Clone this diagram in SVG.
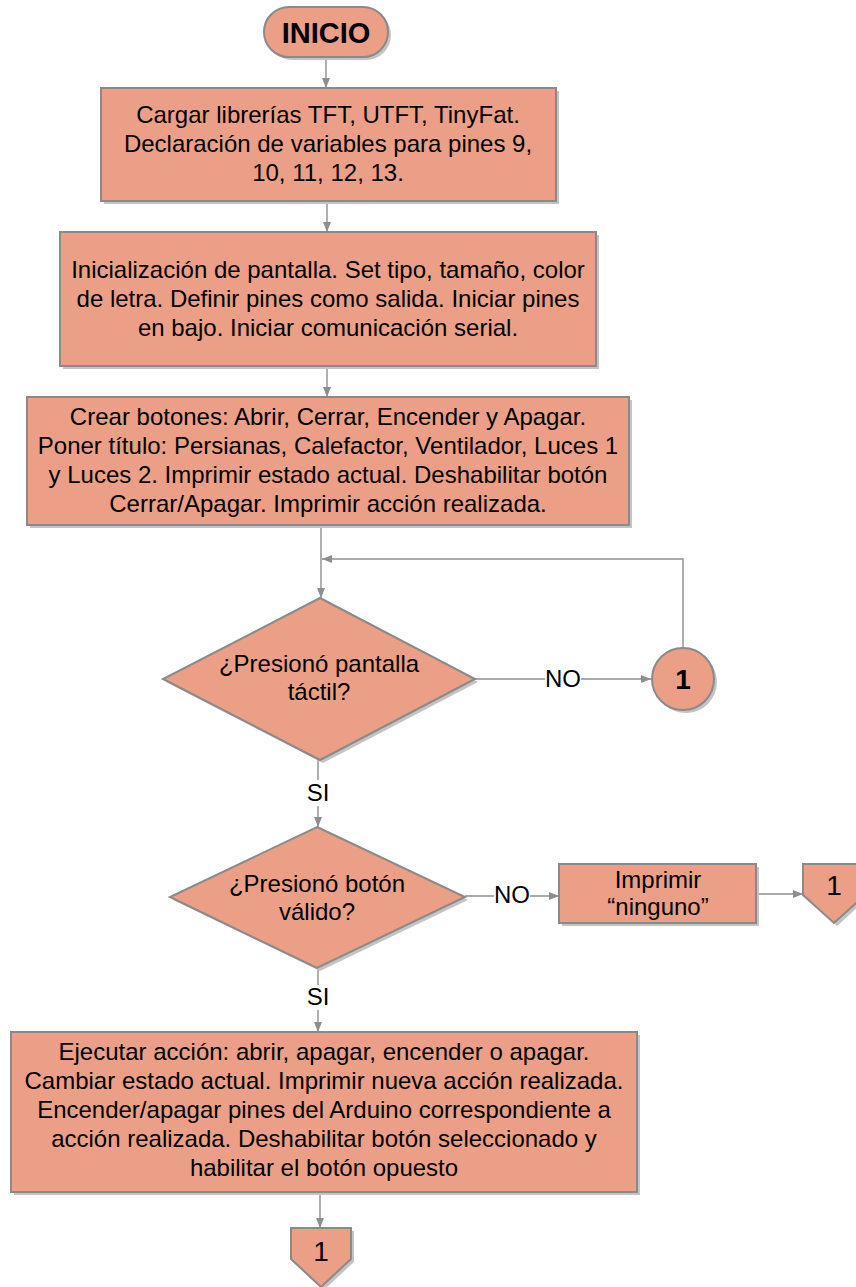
<svg xmlns="http://www.w3.org/2000/svg" width="856" height="1287" viewBox="0 0 856 1287">
  <style>
    .shape { fill: #EA9F86; stroke: #8A8A8A; stroke-width: 2; }
    .shadow { fill: #C4C4C4; stroke: none; }
    .txt { font-family: "Liberation Sans", Arial, sans-serif; font-size: 24px; fill: #000; text-anchor: middle; }
    .bold { font-weight: bold; font-size: 29px; }
    .big { font-size: 28px; }
    .wire { fill: none; stroke: #8E8E8E; stroke-width: 1.4; }
    .lblbg { fill: #FFFFFF; }
  </style>
  <defs>
    <marker id="arr" viewBox="0 0 10 8" refX="10" refY="4" markerWidth="10" markerHeight="8" orient="auto" markerUnits="userSpaceOnUse">
      <path d="M0,0 L10,4 L0,8 z" fill="#8E8E8E"/>
    </marker>
  </defs>
  <rect width="856" height="1287" fill="#FFFFFF"/>

  <!-- connectors -->
  <g id="connectors">
    <path class="wire" d="M326,57 V88" marker-end="url(#arr)"/>
    <path class="wire" d="M327,201 V232" marker-end="url(#arr)"/>
    <path class="wire" d="M327,366 V397" marker-end="url(#arr)"/>
    <path class="wire" d="M321,525 V598" marker-end="url(#arr)"/>
    <path class="wire" d="M683,648 V559 H322" marker-end="url(#arr)"/>
    <path class="wire" d="M475,679 H651" marker-end="url(#arr)"/>
    <path class="wire" d="M318,760 V827" marker-end="url(#arr)"/>
    <path class="wire" d="M465,896 H559" marker-end="url(#arr)"/>
    <path class="wire" d="M756,894 H803" marker-end="url(#arr)"/>
    <path class="wire" d="M318,968 V1032" marker-end="url(#arr)"/>
    <path class="wire" d="M320,1192 V1228" marker-end="url(#arr)"/>
    <!-- labels on connectors -->
    <g id="lbl-no1">
      <rect class="lblbg" x="545" y="667" width="36" height="24"/>
      <text class="txt" x="563" y="687">NO</text>
    </g>
    <g id="lbl-si1">
      <rect class="lblbg" x="305" y="780" width="26" height="26"/>
      <text class="txt" x="318" y="801">SI</text>
    </g>
    <g id="lbl-no2">
      <rect class="lblbg" x="494" y="884" width="36" height="24"/>
      <text class="txt" x="512" y="903">NO</text>
    </g>
    <g id="lbl-si2">
      <rect class="lblbg" x="305" y="985" width="26" height="25"/>
      <text class="txt" x="318" y="1005">SI</text>
    </g>
  </g>

  <!-- start terminal -->
  <g id="inicio">
    <rect class="shadow" x="267" y="10" width="124" height="50" rx="25"/>
    <rect class="shape" x="264" y="7" width="124" height="50" rx="25"/>
    <text class="txt bold" x="326" y="43">INICIO</text>
  </g>

  <g id="cargar">
    <rect class="shadow" x="104" y="91" width="455" height="113"/>
    <rect class="shape" x="101" y="88" width="455" height="113"/>
    <text class="txt" x="328" y="123">Cargar librerías TFT, UTFT, TinyFat.</text>
    <text class="txt" x="328" y="152">Declaración de variables para pines 9,</text>
    <text class="txt" x="328" y="181">10, 11, 12, 13.</text>
  </g>

  <g id="inicializacion">
    <rect class="shadow" x="63" y="235" width="536" height="134"/>
    <rect class="shape" x="60" y="232" width="536" height="134"/>
    <text class="txt" x="328" y="278">Inicialización de pantalla. Set tipo, tamaño, color</text>
    <text class="txt" x="328" y="307">de letra. Definir pines como salida. Iniciar pines</text>
    <text class="txt" x="328" y="336">en bajo. Iniciar comunicación serial.</text>
  </g>

  <g id="botones">
    <rect class="shadow" x="30" y="400" width="602" height="128"/>
    <rect class="shape" x="27" y="397" width="602" height="128"/>
    <text class="txt" x="328" y="425">Crear botones: Abrir, Cerrar, Encender y Apagar.</text>
    <text class="txt" x="328" y="454">Poner título: Persianas, Calefactor, Ventilador, Luces 1</text>
    <text class="txt" x="328" y="483">y Luces 2. Imprimir estado actual. Deshabilitar botón</text>
    <text class="txt" x="328" y="512">Cerrar/Apagar. Imprimir acción realizada.</text>
  </g>

  <g id="decision-pantalla">
    <polygon class="shadow" points="323,601 478,682 323,763 166,682"/>
    <polygon class="shape" points="320,598 475,679 320,760 163,679"/>
    <text class="txt" x="319" y="672">¿Presionó pantalla</text>
    <text class="txt" x="319" y="700">táctil?</text>
  </g>

  <g id="conector-1">
    <circle class="shadow" cx="686" cy="682" r="31"/>
    <circle class="shape" cx="683" cy="679" r="31"/>
    <text class="txt bold big" x="683" y="689">1</text>
  </g>

  <g id="decision-boton">
    <polygon class="shadow" points="320,830 468,900 320,971 173,900"/>
    <polygon class="shape" points="317,827 465,897 317,968 170,897"/>
    <text class="txt" x="317" y="892">¿Presionó botón</text>
    <text class="txt" x="317" y="920">válido?</text>
  </g>

  <g id="imprimir-ninguno">
    <rect class="shadow" x="562" y="867" width="197" height="59"/>
    <rect class="shape" x="559" y="864" width="197" height="59"/>
    <text class="txt" x="658" y="888">Imprimir</text>
    <text class="txt" x="658" y="915">“ninguno”</text>
  </g>

  <g id="pagina-1-derecha">
    <polygon class="shadow" points="806,867 868,867 868,898 837,926 806,898"/>
    <polygon class="shape" points="803,864 865,864 865,895 834,923 803,895"/>
    <text class="txt big" x="834" y="895">1</text>
  </g>

  <g id="ejecutar">
    <rect class="shadow" x="14" y="1035" width="626" height="160"/>
    <rect class="shape" x="11" y="1032" width="626" height="160"/>
    <text class="txt" x="324" y="1060">Ejecutar acción: abrir, apagar, encender o apagar.</text>
    <text class="txt" x="324" y="1089">Cambiar estado actual. Imprimir nueva acción realizada.</text>
    <text class="txt" x="324" y="1118">Encender/apagar pines del Arduino correspondiente a</text>
    <text class="txt" x="324" y="1147">acción realizada. Deshabilitar botón seleccionado y</text>
    <text class="txt" x="324" y="1176">habilitar el botón opuesto</text>
  </g>

  <g id="pagina-1-abajo">
    <polygon class="shadow" points="294,1231 354,1231 354,1262 324,1290 294,1262"/>
    <polygon class="shape" points="291,1228 351,1228 351,1259 321,1287 291,1259"/>
    <text class="txt big" x="321" y="1261">1</text>
  </g>
</svg>
